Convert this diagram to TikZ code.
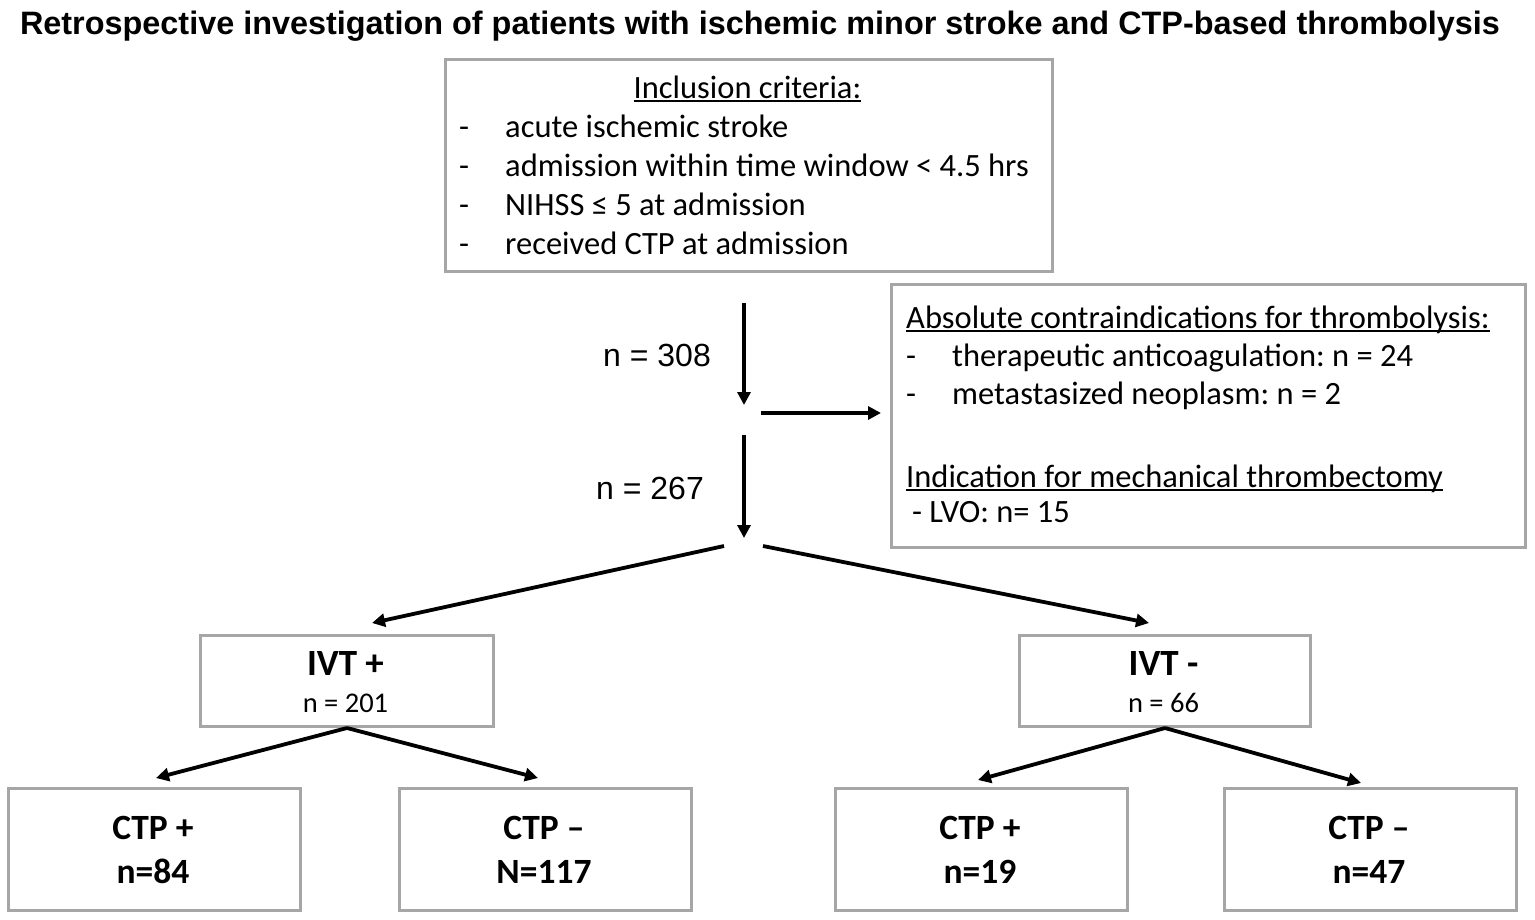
\documentclass[tikz,border=0pt]{standalone}
\usepackage{fontspec}
\setmainfont{Carlito}
\newfontfamily\arialf{Liberation Sans}
\usetikzlibrary{arrows.meta}
\definecolor{boxgray}{HTML}{A6A6A6}
\newcommand\ulx[1]{\setbox0\hbox{#1}\rlap{\rule[-4pt]{\wd0}{1.7pt}}\box0}
\frenchspacing
\begin{document}
\begin{tikzpicture}[x=1pt,y=-1pt,
  box/.style={draw=boxgray,line width=3pt,inner sep=0pt,anchor=north west},
  txt/.style={inner sep=0pt,anchor=base west,font=\fontsize{32.5}{38}\selectfont},
  ctxt/.style={inner sep=0pt,anchor=base},
  arr/.style={line width=3.8pt,-{Triangle[length=13pt,width=13pt]}}]
\useasboundingbox[fill=white] (0,0) rectangle (1535,919);

% title
\node[ctxt,font=\arialf\bfseries\fontsize{32.4}{36}\selectfont] (title) at (760,34)
  {Retrospective investigation of patients with ischemic minor stroke and CTP-based thrombolysis};

% boxes
\node[box,minimum width=607pt,minimum height=212pt] (incl) at (444,58) {};
\node[box,minimum width=634pt,minimum height=263pt] (contra) at (890,283) {};
\node[box,minimum width=293pt,minimum height=91pt] (ivtp) at (199,634) {};
\node[box,minimum width=291pt,minimum height=91pt] (ivtm) at (1018,634) {};
\node[box,minimum width=292pt,minimum height=122pt] (c1) at (7,787) {};
\node[box,minimum width=292pt,minimum height=122pt] (c2) at (398,787) {};
\node[box,minimum width=292pt,minimum height=122pt] (c3) at (834,787) {};
\node[box,minimum width=292pt,minimum height=122pt] (c4) at (1223,787) {};

% inclusion text
\node[ctxt,font=\fontsize{32.5}{38}\selectfont] (inclt) at (747.5,98) {\ulx{Inclusion criteria:}};
\node[txt] (d1) at (459,137) {-};
\node[txt] (i1) at (505,137) {acute ischemic stroke};
\node[txt] (d2) at (459,176) {-};
\node[txt] (i2) at (505,176) {admission within time window < 4.5 hrs};
\node[txt] (d3) at (459,215) {-};
\node[txt] (i3) at (505,215) {NIHSS ≤ 5 at admission};
\node[txt] (d4) at (459,254) {-};
\node[txt] (i4) at (505,254) {received CTP at admission};

% contraindication text
\node[txt] (ct) at (906,328) {\ulx{Absolute contraindications for thrombolysis:}};
\node[txt] (cd1) at (906,366) {-};
\node[txt] (c1t) at (952,366) {therapeutic anticoagulation: n = 24};
\node[txt] (cd2) at (906,404) {-};
\node[txt] (c2t) at (952,404) {metastasized neoplasm: n = 2};
\node[txt] (mt) at (906,487) {\ulx{Indication for mechanical thrombectomy}};
\node[txt] (lvo) at (912,522) {- LVO: n= 15};

% counts
\node[inner sep=0pt,anchor=base west,font=\arialf\fontsize{32}{36}\selectfont] (n308) at (603,366) {n = 308};
\node[inner sep=0pt,anchor=base west,font=\arialf\fontsize{32}{36}\selectfont] (n267) at (596,499) {n = 267};

% IVT boxes text
\node[ctxt,font=\bfseries\fontsize{37}{40}\selectfont] (ivtpa) at (345.5,675) {IVT +};
\node[ctxt,font=\fontsize{28.5}{32}\selectfont] (ivtpb) at (345.5,712) {n = 201};
\node[ctxt,font=\bfseries\fontsize{37}{40}\selectfont] (ivtma) at (1163.5,675) {IVT -};
\node[ctxt,font=\fontsize{28.5}{32}\selectfont] (ivtmb) at (1163.5,712) {n = 66};

% CTP boxes text
\tikzset{ctp/.style={ctxt,font=\bfseries\fontsize{35.5}{40}\selectfont}}
\node[ctp] (c1a) at (153,839) {CTP +};
\node[ctp] (c1b) at (153,883) {n=84};
\node[ctp] (c2a) at (544,839) {CTP –};
\node[ctp] (c2b) at (544,883) {N=117};
\node[ctp] (c3a) at (980,839) {CTP +};
\node[ctp] (c3b) at (980,883) {n=19};
\node[ctp] (c4a) at (1369,839) {CTP –};
\node[ctp] (c4b) at (1369,883) {n=47};

% connector coordinates
\coordinate (v1s) at (744,303);
\coordinate (v1e) at (744,405);
\coordinate (hs) at (761,413);
\coordinate (he) at (881,413);
\coordinate (v2s) at (744,435);
\coordinate (v2e) at (744,538);
\coordinate (sl) at (724,546);
\coordinate (sr) at (763,546);
\coordinate (slE) at (372,623);
\coordinate (srE) at (1149,623);
\coordinate (a1) at (156,778);
\coordinate (a2) at (538,778);
\coordinate (a3) at (978,780);
\coordinate (a4) at (1361,783);

\draw[arr] (v1s) -- (v1e);
\draw[arr] (hs) -- (he);
\draw[arr] (v2s) -- (v2e);
\draw[arr] (sl) -- (slE);
\draw[arr] (sr) -- (srE);
\draw[arr] (ivtp.south) -- (a1);
\draw[arr] (ivtp.south) -- (a2);
\draw[arr] (ivtm.south) -- (a3);
\draw[arr] (ivtm.south) -- (a4);
\end{tikzpicture}
\end{document}
